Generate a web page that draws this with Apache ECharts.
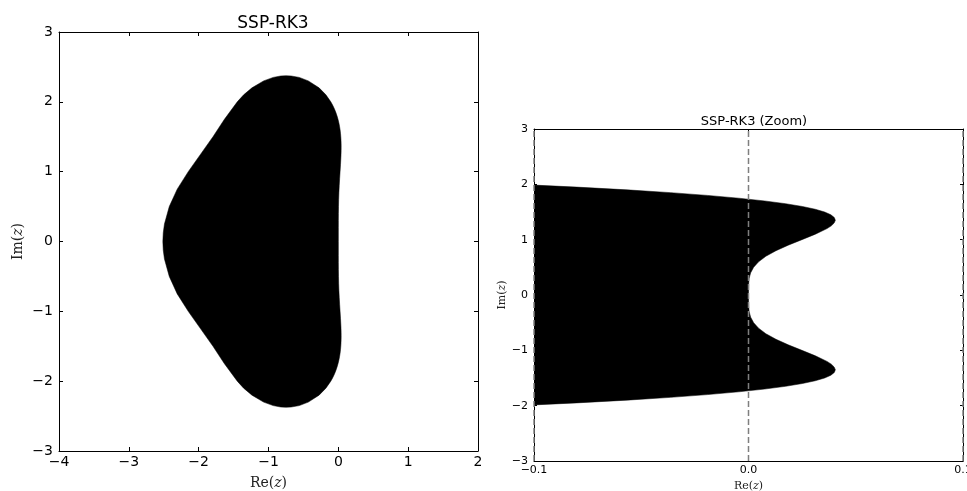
<!DOCTYPE html>
<html>
<head>
<meta charset="utf-8">
<script src="https://cdn.jsdelivr.net/npm/echarts@6/dist/echarts.min.js"></script>
<style>
html,body{margin:0;padding:0;background:#fff;}
#chart{width:967px;height:491px;}
</style>
</head>
<body>
<div id="chart"></div>
<script>
// Stability-region boundary of SSP-RK3: [Re(z), Im(z)]
// upper half: from the origin up the right edge, over the top, down the left edge
var boundaryUpper = [
  [0, 0], [0.0001, 0.2], [0.0003, 0.3], [0.0010, 0.4], [0.0024, 0.5], [0.0047, 0.6],
  [0.0081, 0.7], [0.0128, 0.8], [0.0185, 0.9], [0.0249, 1.0], [0.0312, 1.1], [0.0366, 1.2],
  [0.0386, 1.25], [0.0399, 1.3], [0.0405, 1.35], [0.0400, 1.4], [0.0384, 1.45], [0.0355, 1.5],
  [0.0311, 1.55], [0.0251, 1.6], [0.0173, 1.65], [0.0075, 1.7], [-0.0046, 1.75], [-0.0191, 1.8],
  [-0.0363, 1.85], [-0.0566, 1.9], [-0.0802, 1.95], [-0.1079, 2.0], [-0.1778, 2.1], [-0.2758, 2.2],
  [-0.4297, 2.3], [-0.559, 2.35], [-0.674, 2.37], [-0.75, 2.374], [-0.826, 2.37], [-0.933, 2.35],
  [-1.070, 2.3], [-1.237, 2.2], [-1.356, 2.1], [-1.447, 2.0], [-1.631, 1.75], [-1.795, 1.5],
  [-1.972, 1.25], [-2.149, 1.0], [-2.307, 0.75], [-2.421, 0.5], [-2.490, 0.25], [-2.507, 0.125],
  [-2.513, 0]
];
// lower half: down the left edge, under the bottom, up the right edge back to the origin
var boundaryLower = [
  [-2.507, -0.125], [-2.490, -0.25], [-2.421, -0.5], [-2.307, -0.75], [-2.149, -1.0], [-1.972, -1.25],
  [-1.795, -1.5], [-1.631, -1.75], [-1.447, -2.0], [-1.356, -2.1], [-1.237, -2.2], [-1.070, -2.3],
  [-0.933, -2.35], [-0.826, -2.37], [-0.75, -2.374], [-0.674, -2.37], [-0.559, -2.35], [-0.4297, -2.3],
  [-0.2758, -2.2], [-0.1778, -2.1], [-0.1079, -2.0], [-0.0802, -1.95], [-0.0566, -1.9], [-0.0363, -1.85],
  [-0.0191, -1.8], [-0.0046, -1.75], [0.0075, -1.7], [0.0173, -1.65], [0.0251, -1.6], [0.0311, -1.55],
  [0.0355, -1.5], [0.0384, -1.45], [0.0400, -1.4], [0.0405, -1.35], [0.0399, -1.3], [0.0386, -1.25],
  [0.0366, -1.2], [0.0312, -1.1], [0.0249, -1.0], [0.0185, -0.9], [0.0128, -0.8], [0.0081, -0.7],
  [0.0047, -0.6], [0.0024, -0.5], [0.0010, -0.4], [0.0003, -0.3], [0.0001, -0.2]
];

// axes
var mainXRange = [-4, 2];
var mainYRange = [-3, 3];
var zoomXRange = [-0.1, 0.1];
var zoomYRange = [-3, 3];
var mainTickStep = 1;
var zoomXTickStep = 0.1;
var zoomYTickStep = 1;
// dashed reference lines in the zoom panel
var dashXs = [-0.1, 0.0, 0.1];

var titles = ['SSP-RK3', 'SSP-RK3 (Zoom)'];

var boundary = boundaryUpper.concat(boundaryLower);

function minusFmt(v) {
  return String(v).replace('-', '\u2212');
}
function zoomXFmt(v) {
  if (Math.abs(v) < 1e-9) v = 0;
  return v.toFixed(1).replace('-', '\u2212');
}

var FONT = 'DejaVu Sans';
var SERIF = 'DejaVu Serif';

function richName(size) {
  return {
    color: '#222',
    rich: {
      a: { fontFamily: SERIF, fontSize: size, color: '#222' },
      b: { fontFamily: SERIF, fontSize: size, fontStyle: 'italic', color: '#222' }
    }
  };
}

function xAx(grid, range, step, pos, showLabel, fmt, fontSize, tickLen, name, nameGap, nameSize) {
  return {
    type: 'value', gridIndex: grid, min: range[0], max: range[1], interval: step, position: pos,
    axisLine: { show: true, onZero: false, lineStyle: { color: '#000', width: 1 } },
    axisTick: { show: true, inside: true, length: tickLen, lineStyle: { color: '#000', width: 1 } },
    axisLabel: { show: showLabel, formatter: fmt, color: '#000', fontFamily: FONT, fontSize: fontSize, margin: 4,
                 hideOverlap: false, showMinLabel: true, showMaxLabel: true },
    splitLine: { show: false },
    name: name, nameLocation: 'middle', nameGap: nameGap,
    nameTextStyle: name ? richName(nameSize) : undefined
  };
}
function yAx(grid, range, step, pos, showLabel, fmt, fontSize, tickLen, name, nameGap, nameSize, margin) {
  return {
    type: 'value', gridIndex: grid, min: range[0], max: range[1], interval: step, position: pos,
    axisLine: { show: true, onZero: false, lineStyle: { color: '#000', width: 1 } },
    axisTick: { show: true, inside: true, length: tickLen, lineStyle: { color: '#000', width: 1 } },
    axisLabel: { show: showLabel, formatter: fmt, color: '#000', fontFamily: FONT, fontSize: fontSize, margin: margin,
                 hideOverlap: false, showMinLabel: true, showMaxLabel: true },
    splitLine: { show: false },
    name: name, nameLocation: 'middle', nameGap: nameGap, nameRotate: 90,
    nameTextStyle: name ? richName(nameSize) : undefined
  };
}

var chart = echarts.init(document.getElementById('chart'), null, { renderer: 'canvas' });

function polygonRender(params, api) {
  var pts = boundary.map(function (p) { return api.coord(p); });
  return {
    type: 'polygon',
    shape: { points: pts },
    style: { fill: '#000', stroke: '#000', lineWidth: 0.5 }
  };
}

var series = [
  { type: 'custom', xAxisIndex: 0, yAxisIndex: 0, clip: true, silent: true, data: [[0, 0]], renderItem: polygonRender, z: 2 },
  { type: 'custom', xAxisIndex: 2, yAxisIndex: 2, clip: true, silent: true, data: [[0, 0]], renderItem: polygonRender, z: 2 }
];
dashXs.forEach(function (x) {
  series.push({
    type: 'line', xAxisIndex: 2, yAxisIndex: 2, clip: false, silent: true,
    symbol: 'none', animation: false,
    data: [[x, zoomYRange[0]], [x, zoomYRange[1]]],
    lineStyle: { color: '#7f7f7f', width: 1.5, type: [6, 3] },
    z: 5
  });
});

chart.setOption({
  animation: false,
  backgroundColor: '#fff',
  title: [
    { text: titles[0], left: 268, top: 10, textAlign: 'center',
      textStyle: { fontFamily: FONT, fontSize: 17, fontWeight: 'normal', color: '#000' } },
    { text: titles[1], left: 749, top: 110, textAlign: 'center',
      textStyle: { fontFamily: FONT, fontSize: 13, fontWeight: 'normal', color: '#000' } }
  ],
  grid: [
    { left: 59, top: 32, width: 419, height: 419, containLabel: false, outerBoundsMode: 'none' },
    { left: 534, top: 129, width: 429, height: 332, containLabel: false, outerBoundsMode: 'none' }
  ],
  xAxis: [
    xAx(0, mainXRange, mainTickStep, 'bottom', true, minusFmt, 14, 4, '{a|Re(}{b|z}{a|)}', 25, 14),
    xAx(0, mainXRange, mainTickStep, 'top', false, minusFmt, 14, 4, '', 0, 14),
    xAx(1, zoomXRange, zoomXTickStep, 'bottom', true, zoomXFmt, 11, 3, '{a|Re(}{b|z}{a|)}', 19, 11),
    xAx(1, zoomXRange, zoomXTickStep, 'top', false, zoomXFmt, 11, 3, '', 0, 11)
  ],
  yAxis: [
    yAx(0, mainYRange, mainTickStep, 'left', true, minusFmt, 14, 4, '{a|Im(}{b|z}{a|)}', 34, 14, 6),
    yAx(0, mainYRange, mainTickStep, 'right', false, minusFmt, 14, 4, '', 0, 14, 6),
    yAx(1, zoomYRange, zoomYTickStep, 'left', true, minusFmt, 11, 3, '{a|Im(}{b|z}{a|)}', 26, 11, 6),
    yAx(1, zoomYRange, zoomYTickStep, 'right', false, minusFmt, 11, 3, '', 0, 11, 6)
  ],
  series: series
});
</script>
</body>
</html>
